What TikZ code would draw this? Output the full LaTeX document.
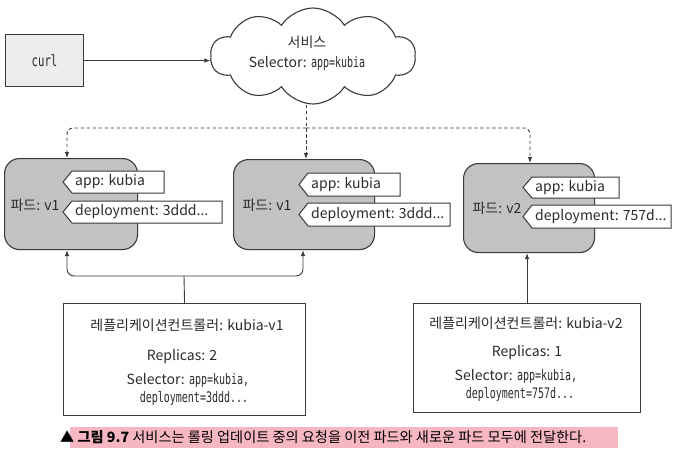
\documentclass[tikz,border=0pt]{standalone}
\usepackage{fontspec}
\setmainfont{Noto Sans CJK KR}
\newfontfamily\monof[FakeStretch=0.69]{DejaVu Sans Mono}
\usetikzlibrary{shapes.symbols,arrows.meta}
\definecolor{ln}{HTML}{3A3A3A}
\definecolor{podgray}{HTML}{C2C2C2}
\definecolor{curlgray}{HTML}{EDEDED}
\definecolor{capink}{HTML}{F6B6C2}
\definecolor{txt}{HTML}{2B2B2B}
\newcommand\podtag[6]{%
  \draw[tagbox] (#2,{(#4+#5)/2}) -- ({#2+9},#4) -- (#3,#4) -- (#3,#5) -- ({#2+9},#5) -- cycle;
  \node[lbl,anchor=west] (#1) at ({#2+12},{(#4+#5)/2}) {#6};}
\newcommand\mtxt[1]{{\fontsize{14.5}{16}\monof #1}}
\begin{document}
\begin{tikzpicture}[x=1pt,y=-1pt,
  box/.style={draw=ln,line width=1.1pt},
  pod/.style={box,fill=podgray,rounded corners=15pt,inner sep=0},
  rcbox/.style={box,fill=white,inner sep=0},
  tagbox/.style={draw=ln,line width=1pt,fill=white},
  lbl/.style={font=\fontsize{14}{16}\selectfont,text=txt,inner sep=0},
  mono/.style={font=\fontsize{14.5}{16}\monof,text=txt,inner sep=0},
  conn/.style={draw=ln,line width=0.9pt,-{Latex[length=6pt,width=4.5pt]}},
  dline/.style={draw=ln,line width=0.9pt,dash pattern=on 3.5pt off 2.5pt},
  dconn/.style={conn,dash pattern=on 3.5pt off 2.5pt},
  pline/.style={draw=ln,line width=0.9pt}]
\useasboundingbox (0,0) rectangle (686,453);
\fill[white] (0,0) rectangle (686,453);

% curl
\node[box,fill=curlgray,minimum width=78pt,minimum height=52pt,anchor=north west,inner sep=0] (curl) at (5,34) {};
\node[mono,font=\fontsize{15.5}{17}\monof] (curlt) at (curl.center) {curl};

% cloud
\node[cloud,draw=ln,line width=1.1pt,fill=white,cloud puffs=10,cloud puff arc=115,aspect=2.1,
  minimum width=205pt,minimum height=96pt,inner sep=0] (cloud) at (313,56) {};
\node[lbl] (svc) at (307,42) {서비스};
\node[lbl] (svcsel) at (307,63) {Selector: \mtxt{app=kubia}};

\draw[conn] (curl.east) -- (cloud.west |- curl.east);

% pods
\node[pod,minimum width=133pt,minimum height=91pt,anchor=north west] (pod1) at (4,158) {};
\node[pod,minimum width=141pt,minimum height=90pt,anchor=north west] (pod2) at (233,159) {};
\node[pod,minimum width=131pt,minimum height=89pt,anchor=north west] (pod3) at (463,163) {};
\node[lbl] (p1l) at (35,205) {파드: v1};
\node[lbl] (p2l) at (267,205) {파드: v1};
\node[lbl] (p3l) at (497,208) {파드: v2};

\podtag{t1a}{63}{164}{171}{193}{app: kubia}
\podtag{t1d}{63}{222}{201}{223}{deployment: 3ddd...}
\podtag{t2a}{299}{400}{173}{196}{app: kubia}
\podtag{t2d}{299}{450}{203}{226}{deployment: 3ddd...}
\podtag{t3a}{523}{619}{177}{198}{app: kubia}
\podtag{t3d}{523}{671}{205}{228}{deployment: 757d...}

% service connectors
\coordinate (hub) at (306,128);
\coordinate (c1) at (67,128);
\coordinate (c3) at (530,128);
\draw[dline] (cloud.south -| hub) -- (hub);
\draw[dconn] (hub) -- (hub |- pod2.north);
\draw[dconn,rounded corners=6pt] (hub) -- (c1) -- (c1 |- pod1.north);
\draw[dconn,rounded corners=6pt] (hub) -- (c3) -- (c3 |- pod3.north);

% replication controllers
\node[rcbox,minimum width=242pt,minimum height=112pt,anchor=north west] (rc1) at (63,303) {};
\node[rcbox,minimum width=227pt,minimum height=109pt,anchor=north west] (rc2) at (413,303) {};
\node[lbl] (rc1t) at (187,325) {레플리케이션컨트롤러: kubia-v1};
\node[lbl] (rc1r) at (182,357) {Replicas: 2};
\node[lbl] (rc1s) at (188,380) {Selector: \mtxt{app=kubia,}};
\node[mono] (rc1d) at (194,398) {deployment=3ddd...};
\node[lbl] (rc2t) at (526,323) {레플리케이션컨트롤러: kubia-v2};
\node[lbl] (rc2r) at (527,353) {Replicas: 1};
\node[lbl] (rc2s) at (516,376) {Selector: \mtxt{app=kubia,}};
\node[mono] (rc2d) at (520,394) {deployment=757d...};

\coordinate (b) at (184,276);
\coordinate (bl) at (67,276);
\coordinate (br) at (303,276);
\draw[pline] (rc1.north) -- (b);
\draw[conn,rounded corners=7pt] (b) -- (bl) -- (bl |- pod1.south);
\draw[conn,rounded corners=7pt] (b) -- (br) -- (br |- pod2.south);
\draw[conn] (rc2.north) -- (rc2.north |- pod3.south);

% caption
\fill[capink] (70,427) rectangle (618,448);
\node[lbl,anchor=west,text=black,font=\fontsize{14.2}{16}\selectfont] (cap) at (60,437) {▲ \textbf{그림 9.7} 서비스는 롤링 업데이트 중의 요청을 이전 파드와 새로운 파드 모두에 전달한다.};
\end{tikzpicture}
\end{document}
